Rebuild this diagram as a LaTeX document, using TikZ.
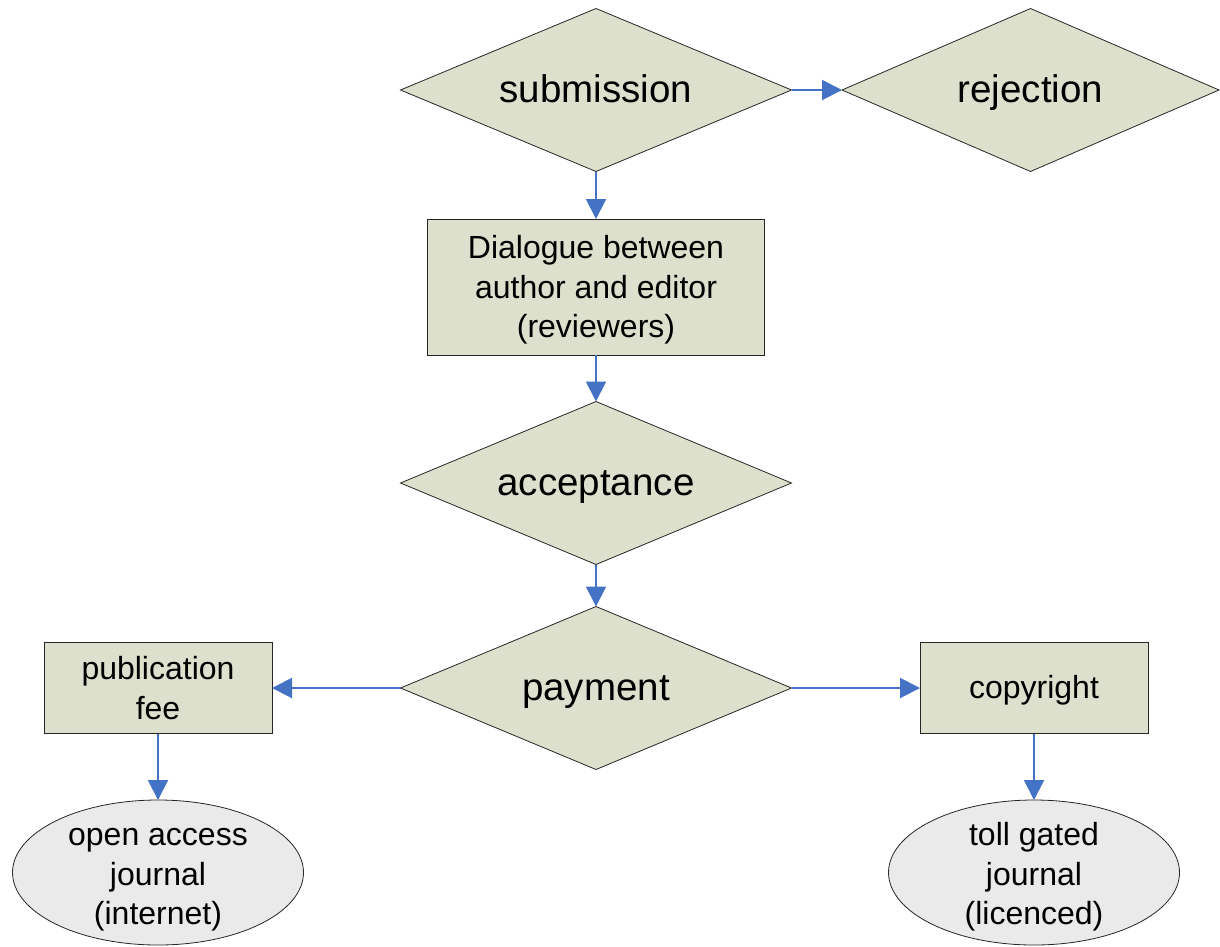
\documentclass[tikz,border=0pt]{standalone}
\usepackage{fontspec}
\setmainfont{Liberation Sans}
\usetikzlibrary{shapes.geometric,arrows.meta}

\definecolor{olivefill}{RGB}{221,224,204}
\definecolor{greyfill}{RGB}{234,234,234}
\definecolor{flowblue}{RGB}{68,114,196}

\tikzset{
  decision/.style={diamond,draw=black!85,fill=olivefill,line width=0.8pt,
    shape aspect=2.4,inner sep=0pt,outer sep=0pt,
    minimum width=391pt,minimum height=163pt,
    font=\fontsize{38.5}{46}\selectfont,text height=29pt,text depth=4pt},
  process/.style={rectangle,draw=black!85,fill=olivefill,line width=0.8pt,
    inner sep=0pt,outer sep=0pt,align=center,
    font=\fontsize{32}{39.5}\selectfont},
  outcome/.style={ellipse,draw=black!85,fill=greyfill,line width=0.8pt,
    inner xsep=0pt,inner ysep=-9pt,outer sep=0pt,align=center,
    minimum width=291pt,minimum height=145pt,
    text height=111.4pt,text depth=6.8pt,
    font=\fontsize{32}{39.5}\selectfont},
  flow/.style={draw=flowblue,line width=2pt,
    -{Triangle[length=20pt,width=20pt]}}
}

\begin{document}
\begin{tikzpicture}[x=1pt, y=-1pt]
            \useasboundingbox (0,0) rectangle (1220,946);

            \node[decision] (F_sub) at (596,90)  {submission};
            \node[decision,minimum width=377pt] (F_rej) at (1030.5,90)  {rejection};
            \node[process,minimum width=337pt,minimum height=136pt,text height=108.4pt] (F_dia) at (596,287)
                {Dialogue between\\author and editor\\(reviewers)};
            \node[decision] (F_acc) at (596,483)  {acceptance};
            \node[decision] (F_pay) at (596,688)  {payment};
            \node[process,minimum width=228pt,minimum height=91pt] (F_fee) at (158,688)
                {publication\\fee};
            \node[process,minimum width=228pt,minimum height=91pt,text height=27.4pt] (F_cop) at (1034,688)
                {copyright};
            \node[outcome] (F_oa) at (158,872.5)  {open access\\journal\\(internet)};
            \node[outcome] (F_tg) at (1034,872.5)  {toll gated\\journal\\(licenced)};

            \draw[flow] (F_sub) -- (F_rej);
            \draw[flow] (F_sub) -- (F_dia);
            \draw[flow] (F_dia) -- (F_acc);
            \draw[flow] (F_acc) -- (F_pay);
            \draw[flow] (F_pay) -- (F_fee);
            \draw[flow] (F_pay) -- (F_cop);
            \draw[flow] (F_fee) -- (F_oa);
            \draw[flow] (F_cop) -- (F_tg);
        \end{tikzpicture}
\end{document}
